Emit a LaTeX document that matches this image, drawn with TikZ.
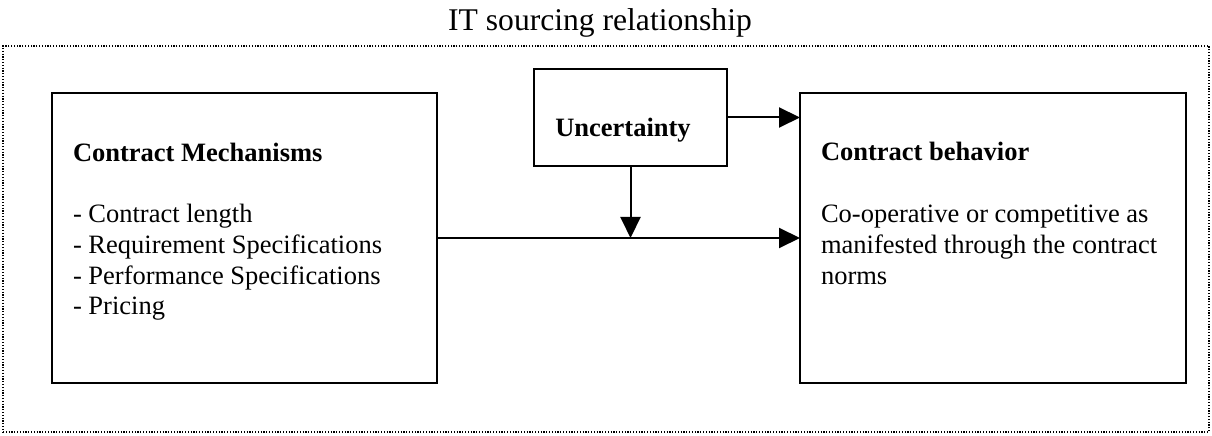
\documentclass[tikz,border=0pt]{standalone}
\usepackage{fontspec}
\setmainfont{Liberation Serif}
\usetikzlibrary{arrows.meta}
\tikzset{
  box/.style={draw, line width=1bp, inner sep=0pt, outer sep=0pt},
  frame/.style={draw, line width=0.7bp, dash pattern=on 0.6bp off 0.8bp, inner sep=0pt, outer sep=0pt},
  txt/.style={inner sep=0pt, outer sep=0pt, anchor=base west, font=\fontsize{13.25bp}{15.35bp}\selectfont},
  arr/.style={line width=1bp, -{Triangle[length=10.5bp,width=10bp]}}
}
\begin{document}
\begin{tikzpicture}[x=0.5bp,y=-0.5bp]
\useasboundingbox (0,0) rectangle (1212,436);
% outer frame
\node[frame, minimum width=603bp, minimum height=193bp, anchor=north west] (F) at (3,46) {};
\node[txt, anchor=base, font=\fontsize{15.8bp}{18bp}\selectfont] (T) at (600,31) {IT sourcing relationship};
% boxes
\node[box, minimum width=192.5bp, minimum height=145bp, anchor=north west] (L) at (52,93) {};
\node[box, minimum width=193bp, minimum height=145bp, anchor=north west] (R) at (800,93) {};
\node[box, minimum width=96.5bp, minimum height=48.5bp, anchor=north west] (U) at (534,69) {};
% texts
\node[txt, anchor=base] (Ut) at (623,137) {\textbf{Uncertainty}};
\node[txt] (Lh) at (73,162) {\textbf{Contract Mechanisms}};
\node[txt] (L1) at (73,223) {- Contract length};
\node[txt] (L2) at (73,254) {- Requirement Specifications};
\node[txt] (L3) at (73,285) {- Performance Specifications};
\node[txt] (L4) at (73,315) {- Pricing};
\node[txt] (Rh) at (821,161) {\textbf{Contract behavior}};
\node[txt] (R1) at (821,223) {Co-operative or competitive as};
\node[txt] (R2) at (821,254) {manifested through the contract};
\node[txt] (R3) at (821,285) {norms};
% connectors
\draw[arr] (L.east) -- (R.west);
\draw[arr] (U.east) -- (U.east -| R.west);
\draw[arr] (U.south) -- (U.south |- L.east);
\end{tikzpicture}
\end{document}
